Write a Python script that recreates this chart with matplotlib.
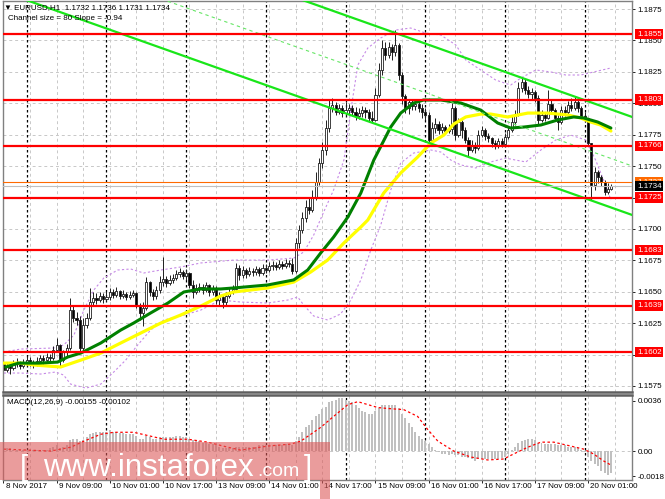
import numpy as np
import matplotlib
matplotlib.use("Agg")
import matplotlib.pyplot as plt
import matplotlib.transforms as mtransforms
from matplotlib.patches import Rectangle
from matplotlib.collections import LineCollection, PatchCollection

plt.rcParams["font.family"] = ["Liberation Sans", "DejaVu Sans"]

# EURUSD H1, bar 0 = 8 Nov 2017 17:00 (open of bar i = close of bar i-1)
first_open = 1.15925
closes = [
    1.15877, 1.15909, 1.15893, 1.15925, 1.15940, 1.15909, 1.15932, 1.15956, 1.15940, 1.15925,
    1.15948, 1.15972, 1.15956, 1.15980, 1.15972, 1.16036, 1.16076, 1.15956, 1.16020, 1.16052,
    1.16354, 1.16291, 1.16275, 1.16052, 1.16235, 1.16291, 1.16418, 1.16450, 1.16434, 1.16466,
    1.16442, 1.16458, 1.16498, 1.16474, 1.16506, 1.16466, 1.16482, 1.16458, 1.16474, 1.16490,
    1.16394, 1.16331, 1.16370, 1.16577, 1.16498, 1.16466, 1.16514, 1.16577, 1.16601, 1.16569,
    1.16594, 1.16609, 1.16641, 1.16657, 1.16625, 1.16649, 1.16554, 1.16498, 1.16530, 1.16537,
    1.16514, 1.16554, 1.16498, 1.16522, 1.16434, 1.16458, 1.16418, 1.16466, 1.16498, 1.16522,
    1.16689, 1.16633, 1.16673, 1.16641, 1.16665, 1.16657, 1.16681, 1.16649, 1.16689, 1.16673,
    1.16705, 1.16713, 1.16697, 1.16721, 1.16705, 1.16729, 1.16721, 1.16665, 1.16888, 1.16991,
    1.17087, 1.17174, 1.17150, 1.17254, 1.17373, 1.17525, 1.17628, 1.17803, 1.17962, 1.17986,
    1.17930, 1.17962, 1.17922, 1.17946, 1.17962, 1.17930, 1.17899, 1.17922, 1.17946, 1.17930,
    1.17883, 1.17867, 1.18066, 1.18265, 1.18440, 1.18384, 1.18448, 1.18408, 1.18464, 1.18225,
    1.18058, 1.17962, 1.18010, 1.17978, 1.17994, 1.17962, 1.17930, 1.17907, 1.17708, 1.17803,
    1.17835, 1.17787, 1.17811, 1.17779, 1.17795, 1.17962, 1.17747, 1.17851, 1.17787, 1.17708,
    1.17628, 1.17668, 1.17644, 1.17747, 1.17787, 1.17739, 1.17723, 1.17684, 1.17660, 1.17700,
    1.17676, 1.17731, 1.17787, 1.17851, 1.17914, 1.18122, 1.18169, 1.18106, 1.18074, 1.18090,
    1.18042, 1.17867, 1.17907, 1.17883, 1.17994, 1.17946, 1.17883, 1.17851, 1.17946, 1.17930,
    1.17986, 1.17962, 1.18010, 1.17962, 1.17899, 1.17883, 1.17684, 1.17349, 1.17453, 1.17413,
    1.17373, 1.17294, 1.17320, 1.17340,
]
highs = [
    1.15956, 1.15940, 1.15932, 1.15956, 1.15972, 1.15948, 1.15964, 1.15988, 1.15980, 1.15956,
    1.15980, 1.15996, 1.15996, 1.16012, 1.16004, 1.16068, 1.16132, 1.16084, 1.16036, 1.16084,
    1.16450, 1.16394, 1.16338, 1.16307, 1.16291, 1.16331, 1.16530, 1.16498, 1.16490, 1.16498,
    1.16490, 1.16506, 1.16530, 1.16522, 1.16537, 1.16514, 1.16514, 1.16498, 1.16506, 1.16514,
    1.16498, 1.16410, 1.16418, 1.16617, 1.16586, 1.16522, 1.16546, 1.16625, 1.16776, 1.16625,
    1.16633, 1.16641, 1.16673, 1.16689, 1.16673, 1.16681, 1.16657, 1.16594, 1.16561, 1.16569,
    1.16561, 1.16577, 1.16561, 1.16554, 1.16546, 1.16498, 1.16482, 1.16498, 1.16530, 1.16554,
    1.16729, 1.16713, 1.16705, 1.16689, 1.16697, 1.16689, 1.16705, 1.16697, 1.16721, 1.16721,
    1.16737, 1.16744, 1.16737, 1.16752, 1.16744, 1.16760, 1.16752, 1.16768, 1.16928, 1.17031,
    1.17134, 1.17230, 1.17246, 1.17310, 1.17453, 1.17564, 1.17692, 1.17867, 1.18026, 1.18042,
    1.18010, 1.17994, 1.17986, 1.18010, 1.17994, 1.17986, 1.17970, 1.17962, 1.17978, 1.17970,
    1.17954, 1.17938, 1.18122, 1.18321, 1.18504, 1.18488, 1.18488, 1.18472, 1.18583, 1.18480,
    1.18249, 1.18074, 1.18034, 1.18026, 1.18034, 1.18018, 1.17994, 1.17962, 1.17930, 1.17851,
    1.17883, 1.17859, 1.17843, 1.17827, 1.17835, 1.18002, 1.17978, 1.17883, 1.17867, 1.17811,
    1.17731, 1.17708, 1.17692, 1.17787, 1.17819, 1.17803, 1.17763, 1.17731, 1.17708, 1.17723,
    1.17723, 1.17763, 1.17819, 1.17907, 1.17946, 1.18169, 1.18209, 1.18193, 1.18137, 1.18122,
    1.18106, 1.18066, 1.17946, 1.17930, 1.18106, 1.18026, 1.17962, 1.17907, 1.17978, 1.17978,
    1.18018, 1.18042, 1.18058, 1.18026, 1.17978, 1.17930, 1.17883, 1.17684, 1.17493, 1.17469,
    1.17429, 1.17389, 1.17365, 1.17360,
]
lows = [
    1.15813, 1.15861, 1.15845, 1.15877, 1.15901, 1.15885, 1.15893, 1.15909, 1.15909, 1.15893,
    1.15909, 1.15932, 1.15917, 1.15940, 1.15948, 1.15956, 1.16020, 1.15901, 1.15940, 1.15988,
    1.16036, 1.16259, 1.16235, 1.16020, 1.16036, 1.16211, 1.16275, 1.16386, 1.16402, 1.16418,
    1.16410, 1.16426, 1.16434, 1.16450, 1.16458, 1.16442, 1.16450, 1.16434, 1.16442, 1.16458,
    1.16370, 1.16275, 1.16227, 1.16354, 1.16466, 1.16434, 1.16442, 1.16490, 1.16546, 1.16537,
    1.16554, 1.16569, 1.16594, 1.16617, 1.16601, 1.16594, 1.16530, 1.16450, 1.16482, 1.16498,
    1.16482, 1.16498, 1.16466, 1.16474, 1.16402, 1.16386, 1.16370, 1.16394, 1.16450, 1.16482,
    1.16506, 1.16594, 1.16609, 1.16609, 1.16625, 1.16625, 1.16633, 1.16625, 1.16633, 1.16649,
    1.16657, 1.16673, 1.16673, 1.16681, 1.16681, 1.16689, 1.16697, 1.16641, 1.16649, 1.16848,
    1.16967, 1.17055, 1.17118, 1.17134, 1.17230, 1.17349, 1.17485, 1.17588, 1.17771, 1.17930,
    1.17907, 1.17914, 1.17891, 1.17899, 1.17914, 1.17899, 1.17867, 1.17875, 1.17891, 1.17883,
    1.17851, 1.17843, 1.17859, 1.18050, 1.18225, 1.18344, 1.18360, 1.18344, 1.18376, 1.18185,
    1.17994, 1.17922, 1.17914, 1.17946, 1.17946, 1.17930, 1.17883, 1.17867, 1.17684, 1.17700,
    1.17763, 1.17755, 1.17763, 1.17755, 1.17763, 1.17755, 1.17708, 1.17731, 1.17723, 1.17684,
    1.17572, 1.17612, 1.17604, 1.17628, 1.17731, 1.17708, 1.17692, 1.17652, 1.17636, 1.17644,
    1.17652, 1.17660, 1.17715, 1.17771, 1.17827, 1.17899, 1.18090, 1.18074, 1.18042, 1.18034,
    1.18010, 1.17835, 1.17851, 1.17859, 1.17875, 1.17914, 1.17859, 1.17787, 1.17835, 1.17899,
    1.17907, 1.17938, 1.17946, 1.17930, 1.17875, 1.17851, 1.17660, 1.17230, 1.17310, 1.17365,
    1.17341, 1.17270, 1.17278, 1.17310,
]

# MACD(12,26,9) main value per bar and signal line
macd_main = [
    0.0002, 0.0002, 0.0002, 0.0001, 0.0001, 0.0001, 0.0001, 0.0001, 0.0001, 0.0001,
    0.0001, 0.0001, 0.0001, 0.0001, 0.0002, 0.0003, 0.0004, 0.0002, 0.0003, 0.0004,
    0.0008, 0.0009, 0.0009, 0.0007, 0.0008, 0.0010, 0.0012, 0.0013, 0.0014, 0.0014,
    0.0014, 0.0014, 0.0015, 0.0014, 0.0014, 0.0013, 0.0013, 0.0012, 0.0012, 0.0012,
    0.0011, 0.0009, 0.0009, 0.0011, 0.0010, 0.0009, 0.0009, 0.0010, 0.0010, 0.0010,
    0.0010, 0.0010, 0.0011, 0.0011, 0.0010, 0.0010, 0.0009, 0.0008, 0.0008, 0.0007,
    0.0006, 0.0006, 0.0005, 0.0005, 0.0004, 0.0003, 0.0002, 0.0002, 0.0002, 0.0002,
    0.0003, 0.0003, 0.0003, 0.0003, 0.0003, 0.0003, 0.0003, 0.0004, 0.0004, 0.0004,
    0.0004, 0.0004, 0.0004, 0.0004, 0.0004, 0.0005, 0.0005, 0.0004, 0.0007, 0.0010,
    0.0014, 0.0017, 0.0019, 0.0022, 0.0025, 0.0027, 0.0030, 0.0032, 0.0035, 0.0036,
    0.0037, 0.0038, 0.0038, 0.0037, 0.0036, 0.0035, 0.0033, 0.0031, 0.0029, 0.0028,
    0.0027, 0.0027, 0.0029, 0.0031, 0.0033, 0.0033, 0.0033, 0.0033, 0.0033, 0.0031,
    0.0027, 0.0024, 0.0020, 0.0017, 0.0014, 0.0011, 0.0009, 0.0007, 0.0005, 0.0003,
    0.0001, -0.0001, -0.0002, -0.0002, -0.0003, -0.0002, -0.0003, -0.0003, -0.0004, -0.0004,
    -0.0005, -0.0006, -0.0007, -0.0006, -0.0006, -0.0006, -0.0006, -0.0006, -0.0006, -0.0006,
    -0.0005, -0.0004, -0.0002, 0.0001, 0.0003, 0.0006, 0.0007, 0.0008, 0.0009, 0.0009,
    0.0008, 0.0006, 0.0006, 0.0005, 0.0005, 0.0005, 0.0005, 0.0004, 0.0004, 0.0004,
    0.0003, 0.0003, 0.0003, 0.0002, 0.0001, -0.0001, -0.0004, -0.0007, -0.0009, -0.0011,
    -0.0014, -0.0016, -0.0017, -0.00155,
]
signal_x = [0, 14.2, 20.3, 24.2, 29.3, 33.2, 39.2, 44.3, 48.3, 55.5, 61.5, 67.5, 71.4, 79.6,
            86.5, 89.5, 93.4, 95.5, 99.4, 103.7, 106.7, 109.7, 112.7, 115.7, 120.5, 124.7,
            127.7, 130.8, 135.6, 140.7, 145.8, 150.6, 153.6, 157.9, 161.8, 165.7, 170.8,
            174.7, 177.7, 180.7, 183]
signal_v = [0.00014, 0.0, 0.00028, 0.00071, 0.00121, 0.00135, 0.00135, 0.00107, 0.00085,
            0.00085, 0.00064, 0.00028, 0.00007, 0.00036, 0.0005, 0.00071, 0.00135, 0.0017,
            0.00249, 0.00334, 0.00355, 0.00334, 0.00313, 0.00306, 0.00298, 0.00249, 0.00156,
            0.00071, 0.0, -0.00043, -0.00064, -0.00057, -0.00021, 0.00028, 0.00064, 0.00064,
            0.00036, 0.00014, -0.00021, -0.00071, -0.00102]

# moving averages (green fast, yellow slow)
green_x = [0.7, 4.6, 10.6, 16.3, 19.3, 23.3, 29.3, 35.3, 39.2, 44.3, 49.5, 54.3, 59.4, 65.4,
           69.3, 79.6, 87.4, 91.6, 95.5, 99.4, 103.7, 107.6, 111.5, 116.6, 119.6, 123.5,
           126.5, 131.7, 137.7, 143.7, 148.8, 152.7, 156.7, 161.8, 166.9, 171.7, 174.7,
           178.9, 182.9]
green_v = [1.15901, 1.15932, 1.15932, 1.15940, 1.15980, 1.16012, 1.16092, 1.16195, 1.16251,
           1.16331, 1.16410, 1.16498, 1.16522, 1.16522, 1.16530, 1.16554, 1.16594, 1.16673,
           1.16808, 1.16935, 1.17095, 1.17286, 1.17548, 1.17811, 1.17922, 1.18002, 1.18026,
           1.18026, 1.18002, 1.17946, 1.17843, 1.17803, 1.17811, 1.17827, 1.17867, 1.17891,
           1.17883, 1.17851, 1.17803]
yellow_x = [0, 5.2, 9.1, 17.2, 23.3, 29.3, 35.3, 41.3, 47.4, 53.4, 59.4, 65.4, 69.3, 79.6,
            87.4, 92.5, 97.6, 102.5, 107.6, 109.7, 114.5, 119.6, 124.7, 128.7, 132.6, 135.6,
            139.2, 143.7, 146.7, 151.8, 157.9, 163.9, 169.9, 173.8, 176.8, 179.8, 182.9]
yellow_v = [1.15932, 1.15932, 1.15917, 1.15901, 1.15956, 1.16012, 1.16092, 1.16171, 1.16251,
            1.16315, 1.16386, 1.16466, 1.16498, 1.16530, 1.16577, 1.16657, 1.16752, 1.16888,
            1.17015, 1.17071, 1.17286, 1.17445, 1.17572, 1.17684, 1.17747, 1.17835, 1.17891,
            1.17914, 1.17914, 1.17891, 1.17922, 1.17922, 1.17907, 1.17883, 1.17851, 1.17827,
            1.17779]

# bollinger envelope (purple dotted)
bb_up_x = [0.1, 5.2, 15.1, 18.1, 21.2, 24.2, 27.2, 30.2, 34.4, 38.3, 42.2, 47.4, 53.4, 59.4,
           69.3, 79.6, 87.4, 90.4, 93.4, 96.4, 99.4, 102.5, 104.6, 106.7, 109.7, 113.6, 118.1,
           122.6, 127.1, 131.7, 136.2, 139.2, 143.7, 148.2, 152.7, 155.8, 160.3, 164.8, 169.3,
           173.8, 177.7, 182.9]
bb_up_v = [1.16020, 1.16044, 1.16052, 1.16076, 1.16155, 1.16354, 1.16514, 1.16609, 1.16673,
           1.16681, 1.16649, 1.16673, 1.16697, 1.16729, 1.16752, 1.16752, 1.16768, 1.16816,
           1.16951, 1.17134, 1.17310, 1.17548, 1.17946, 1.18305, 1.18440, 1.18520, 1.18583,
           1.18599, 1.18559, 1.18543, 1.18464, 1.18344, 1.18265, 1.18185, 1.18145, 1.18201,
           1.18265, 1.18249, 1.18225, 1.18225, 1.18249, 1.18281]
bb_lo_x = [0.1, 5.2, 11.2, 15.7, 18.1, 20.2, 24.8, 29.3, 33.2, 36.8, 40.4, 44.3, 48.3, 53.4,
           59.4, 65.4, 71.4, 79.6, 85.6, 88.6, 90.4, 93.4, 97.6, 101.5, 104.6, 107.6, 110.6,
           113.6, 116.6, 119.6, 123.5, 128.7, 131.7, 134.7, 137.7, 142.2, 146.7, 151.2, 154.2,
           157.3, 161.8, 166.3, 170.8, 175.3, 178.3, 181.3, 182.9]
bb_lo_v = [1.15853, 1.15853, 1.15845, 1.15861, 1.15837, 1.15765, 1.15733, 1.15765, 1.15861,
           1.15956, 1.16076, 1.16195, 1.16275, 1.16307, 1.16354, 1.16434, 1.16418, 1.16410,
           1.16434, 1.16458, 1.16394, 1.16307, 1.16275, 1.16323, 1.16434, 1.16594, 1.16832,
           1.17031, 1.17310, 1.17525, 1.17604, 1.17628, 1.17612, 1.17548, 1.17509, 1.17485,
           1.17533, 1.17564, 1.17548, 1.17533, 1.17628, 1.17708, 1.17747, 1.17708, 1.17548,
           1.17349, 1.17230]

# regression channel: middle line anchors, half width
channel_x = [50, 183]
channel_mid = [1.18807, 1.17560]
channel_half = 0.0039

levels = [1.1855, 1.1803, 1.1766, 1.1725, 1.1683, 1.1639, 1.1602]
bid_price = 1.1734
ask_price = 1.1737

price_ticks = [1.1575, 1.1600, 1.1625, 1.1650, 1.1675, 1.1700, 1.1725,
               1.1750, 1.1775, 1.1800, 1.1825, 1.1850, 1.1875]
macd_ticks = [0.0036, 0.0, -0.0018]
macd_tick_labels = ["0.0036", "0.00", "-0.0018"]

time_tick_bars = [0, 16, 32, 48, 64, 80, 96, 112, 128, 144, 160, 176]
time_tick_labels = ["8 Nov 2017", "9 Nov 09:00", "10 Nov 01:00", "10 Nov 17:00",
                    "13 Nov 09:00", "14 Nov 01:00", "14 Nov 17:00", "15 Nov 09:00",
                    "16 Nov 01:00", "16 Nov 17:00", "17 Nov 09:00", "20 Nov 01:00"]
day_start_bars = [7, 31, 55, 79, 103, 127, 151, 175]

W, H = 665, 499
FS = 5.8


def px_box(x0, y0, x1, y1):
    return [x0 / W, 1 - y1 / H, (x1 - x0) / W, (y1 - y0) / H]


fig = plt.figure(figsize=(W / 100, H / 100), dpi=100)
fig.patch.set_facecolor("white")
ax = fig.add_axes(px_box(3, 1, 632, 392))
axm = fig.add_axes(px_box(3, 395, 632, 480))
xlim = (-0.15, 189.25)

grid_kw = dict(color="#c8c8c8", lw=0.7, ls=(0, (3, 3)), zorder=0.5)
sep_kw = dict(color="black", lw=0.9, ls=(0, (2, 2)), zorder=0.6)
for a in (ax, axm):
    a.set_xlim(*xlim)
    for b in range(0, 190, 8):
        a.axvline(b, **grid_kw)
    for b in day_start_bars:
        a.axvline(b, **sep_kw)
    a.yaxis.tick_right()
    a.tick_params(axis="y", direction="out", length=2.5, width=0.6, pad=1.5,
                  labelsize=FS, colors="black")
    for s in a.spines.values():
        s.set_color("#808080")
        s.set_linewidth(1.0)
ax.spines["bottom"].set_linewidth(1.8)
ax.spines["bottom"].set_color("#606060")
axm.spines["top"].set_linewidth(1.8)
axm.spines["top"].set_color("#606060")
ax.tick_params(axis="x", bottom=False, labelbottom=False)
axm.set_xticks(time_tick_bars)
axm.tick_params(axis="x", direction="out", length=2.5, width=0.6, labelbottom=False)

# price panel
ax.set_ylim(1.15702, 1.18814)
ax.set_yticks(price_ticks)
ax.set_yticklabels([f"{p:.4f}" for p in price_ticks])
for p in price_ticks:
    ax.axhline(p, **grid_kw)

n = len(closes)
opens = [first_open] + closes[:-1]
wicks = [[(i, lows[i]), (i, highs[i])] for i in range(n)]
ax.add_collection(LineCollection(wicks, colors="#202020", linewidths=0.7, zorder=2))
bodies, face = [], []
for i in range(n):
    lo, hi = min(opens[i], closes[i]), max(opens[i], closes[i])
    bodies.append(Rectangle((i - 0.32, lo), 0.64, max(hi - lo, 0.00001)))
    face.append("white" if closes[i] >= opens[i] else "black")
ax.add_collection(PatchCollection(bodies, facecolors=face, edgecolors="#202020",
                                  linewidths=0.6, zorder=2.1))

band_kw = dict(color="#c68ae6", lw=0.8, ls=(0, (2, 2)), zorder=1.5)
ax.plot(bb_up_x, bb_up_v, **band_kw)
ax.plot(bb_lo_x, bb_lo_v, **band_kw)
ax.plot(yellow_x, yellow_v, color="#ffff00", lw=2.3, zorder=3, solid_capstyle="round")
ax.plot(green_x, green_v, color="#008000", lw=2.2, zorder=3.1, solid_capstyle="round")

slope = (channel_mid[1] - channel_mid[0]) / (channel_x[1] - channel_x[0])
xs = np.array(xlim)
mid = channel_mid[0] + slope * (xs - channel_x[0])
ax.plot(xs, mid + channel_half, color="#19e619", lw=1.6, zorder=4)
ax.plot(xs, mid - channel_half, color="#19e619", lw=1.6, zorder=4)
ax.plot(xs, mid, color="#66e666", lw=0.8, ls=(0, (3, 3)), zorder=4)

for lvl in levels:
    ax.axhline(lvl, color="#ff0000", lw=1.6, zorder=4.5)
ax.axhline(ask_price, color="#ff6a00", lw=0.8, zorder=4.4)
ax.axhline(bid_price, color="#c0c0c0", lw=0.8, zorder=4.3)

lab_tr = mtransforms.offset_copy(
    mtransforms.blended_transform_factory(ax.transAxes, ax.transData),
    fig=fig, x=5, y=0, units="dots")
box_kw = dict(ha="left", va="center", fontsize=FS, transform=lab_tr, clip_on=False)
for lvl in levels:
    ax.text(1.0, lvl, f"{lvl:.4f}", color="white", zorder=10,
            bbox=dict(boxstyle="square,pad=0.2", fc="#ff0000", ec="none"), **box_kw)
ax.text(1.0, ask_price, f"{ask_price:.4f}", color="white", zorder=10,
        bbox=dict(boxstyle="square,pad=0.2", fc="#ff6a00", ec="none"), **box_kw)
ax.text(1.0, bid_price, f"{bid_price:.4f}", color="white", zorder=11,
        bbox=dict(boxstyle="square,pad=0.2", fc="black", ec="none"), **box_kw)

# MACD panel
axm.set_ylim(-0.00208, 0.00403)
axm.set_yticks(macd_ticks)
axm.set_yticklabels(macd_tick_labels)
axm.axhline(0, **grid_kw)
axm.bar(range(n), macd_main, width=0.6, color="#c0c0c0", zorder=1)
axm.plot(signal_x, signal_v, color="#ff0000", lw=0.9, ls=(0, (2, 2)), zorder=2)

for b, lab in zip(time_tick_bars, time_tick_labels):
    axm.annotate(lab, xy=(b, 0), xycoords=axm.get_xaxis_transform(), xytext=(1.5, -2.5),
                 textcoords="offset points", ha="left", va="top", fontsize=FS)

fig.text(4 / W, 1 - 8 / H, "\u25bc EURUSD,H1  1.1732 1.1736 1.1731 1.1734",
         fontsize=FS, va="center", ha="left")
fig.text(8 / W, 1 - 19 / H, "Channel size = 80 Slope = -0.94",
         fontsize=FS, va="center", ha="left")
fig.text(7 / W, 1 - 402 / H, "MACD(12,26,9) -0.00155 -0.00102",
         fontsize=FS, va="center", ha="left")

# watermark
fig.add_artist(Rectangle((0, 1 - 480 / H), 330 / W, 38 / H, transform=fig.transFigure,
                         fc="#dc5a5a", ec="none", alpha=0.6, zorder=5))
fig.add_artist(Rectangle((320 / W, 0), 10 / W, 19 / H, transform=fig.transFigure,
                         fc="#dc5a5a", ec="none", alpha=0.6, zorder=5))
wm_y = 1 - 476 / H
fig.text(20 / W, wm_y, "[", fontsize=21, color="white", va="baseline", zorder=6)
fig.text(43 / W, wm_y, "www.instaforex", fontsize=22.5, color="white", va="baseline", zorder=6)
fig.text(257 / W, wm_y, ".com", fontsize=14, color="white", va="baseline", zorder=6)
fig.text(304 / W, wm_y, "]", fontsize=21, color="white", va="baseline", zorder=6)

fig.savefig("out.png", dpi=100)
